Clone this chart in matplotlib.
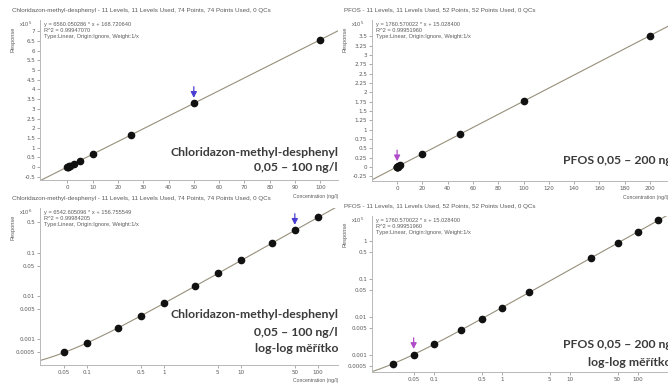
import numpy as np
import matplotlib.pyplot as plt
from matplotlib.ticker import FixedLocator, FixedFormatter, NullLocator

# Calibration data (concentration in ng/l, detector response in counts)
chl_conc = [0.05, 0.1, 0.25, 0.5, 1, 2.5, 5, 10, 25, 50, 100]
chl_resp = [500, 820, 1810, 3450, 6750, 16600, 33000, 65800, 164000, 328000, 656000]
chl_eq_lin = (6560.050286, 168.720640, 0.99947070)
chl_eq_log = (6542.605096, 156.755549, 0.99984205)

pfos_conc = [0.025, 0.05, 0.1, 0.25, 0.5, 1, 2.5, 20, 50, 100, 200]
pfos_resp = [59, 103, 191, 455, 895, 1776, 4420, 35230, 88040, 176070, 352130]
pfos_eq = (1760.570022, 15.028400, 0.99951960)

chl_title = "Chloridazon-methyl-desphenyl - 11 Levels, 11 Levels Used, 74 Points, 74 Points Used, 0 QCs"
pfos_title = "PFOS - 11 Levels, 11 Levels Used, 52 Points, 52 Points Used, 0 QCs"
fit_type = "Type:Linear, Origin:Ignore, Weight:1/x"

tl_yticks = [-0.5, 0, 0.5, 1, 1.5, 2, 2.5, 3, 3.5, 4, 4.5, 5, 5.5, 6, 6.5, 7]
tl_xticks = [0, 10, 20, 30, 40, 50, 60, 70, 80, 90, 100]
tr_yticks = [-0.25, 0, 0.25, 0.5, 0.75, 1, 1.25, 1.5, 1.75, 2, 2.25, 2.5, 2.75, 3, 3.25, 3.5]
tr_xticks = [0, 20, 40, 60, 80, 100, 120, 140, 160, 180, 200]
bl_yticks = [0.0005, 0.001, 0.005, 0.01, 0.05, 0.1, 0.5]
bl_xticks = [0.05, 0.1, 0.5, 1, 5, 10, 50, 100]
br_yticks = [0.0005, 0.001, 0.005, 0.01, 0.05, 0.1, 0.5, 1]
br_xticks = [0.05, 0.1, 0.5, 1, 5, 10, 50, 100]

chl_label = ["Chloridazon-methyl-desphenyl", "0,05 \u2013 100 ng/l"]
pfos_label = ["PFOS 0,05 \u2013 200 ng/l"]
log_note = "log-log m\u011b\u0159\u00edtko"

W, H = 668, 385
fig = plt.figure(figsize=(W / 100, H / 100), dpi=100)
fig.patch.set_facecolor("white")

SMALL = 4.1
GREY = "#5a5a5a"
LINE = "#968f7a"
BIG = dict(family="Lato", weight="bold", color="#3b3b3b", fontsize=8.8)


def box(l, t, r, b):
    return [l / W, 1 - b / H, (r - l) / W, (b - t) / H]


def fmt(v):
    s = ("%.4f" % v).rstrip("0").rstrip(".")
    return s


def style(ax, xticks, yticks):
    for s in ("top", "right"):
        ax.spines[s].set_visible(False)
    for s in ("left", "bottom"):
        ax.spines[s].set_color("#b8b8b8")
        ax.spines[s].set_linewidth(0.7)
    ax.xaxis.set_major_locator(FixedLocator(xticks))
    ax.xaxis.set_major_formatter(FixedFormatter([fmt(v) for v in xticks]))
    ax.yaxis.set_major_locator(FixedLocator(yticks))
    ax.yaxis.set_major_formatter(FixedFormatter([fmt(v) for v in yticks]))
    ax.xaxis.set_minor_locator(NullLocator())
    ax.yaxis.set_minor_locator(NullLocator())
    ax.tick_params(length=2, width=0.5, color="#888888", labelsize=SMALL,
                   labelcolor=GREY, pad=1.5)
    ax.set_facecolor("none")


def header(ax, title, eq, scale_exp):
    slope, icpt, r2 = eq
    ax.text(-0.095, 1.045, title, transform=ax.transAxes, fontsize=SMALL + 0.4,
            color=GREY, family="Liberation Sans", va="bottom", ha="left")
    ax.text(-0.027, 1.0, "x10$^{%d}$" % scale_exp, transform=ax.transAxes,
            fontsize=SMALL, color=GREY, family="Liberation Sans", va="top", ha="right")
    txt = "y = %.6f * x + %.6f\nR^2 = %.8f\n%s" % (slope, icpt, r2, fit_type)
    ax.text(0.012, 0.985, txt, transform=ax.transAxes, fontsize=SMALL,
            color=GREY, family="Liberation Sans", va="top", ha="left", linespacing=1.25)
    ax.text(-0.09, 0.88, "Response", transform=ax.transAxes, rotation=90,
            fontsize=SMALL, color=GREY, family="Liberation Sans", va="center", ha="center")
    ax.text(1.0, -0.085, "Concentration (ng/l)", transform=ax.transAxes,
            fontsize=SMALL - 0.4, color=GREY, family="Liberation Sans", va="top", ha="right",
            clip_on=False)


def arrow(ax, x, y, color, dy=12):
    ax.annotate("", xy=(x, y), xycoords="data", xytext=(0, dy), textcoords="offset points",
                arrowprops=dict(arrowstyle="-|>,head_width=0.18,head_length=0.35",
                                color=color, lw=0.9, shrinkA=0, shrinkB=4))


# ---- top left: Chloridazon, linear ----
ax1 = fig.add_axes(box(40, 20, 338, 180))
style(ax1, tl_xticks, tl_yticks)
ax1.set_xlim(-10.8, 107)
ax1.set_ylim(-0.67, 7.58)
xs = np.linspace(-10.8, 107, 50)
ax1.plot(xs, (chl_eq_lin[0] * xs + chl_eq_lin[1]) / 1e5, color=LINE, lw=0.8)
ax1.plot(chl_conc, np.array(chl_resp) / 1e5, "o", color="#111111", ms=4.5)
arrow(ax1, 50, chl_resp[9] / 1e5, "#4a3fd0")
header(ax1, chl_title, chl_eq_lin, 5)

# ---- top right: PFOS, linear ----
ax2 = fig.add_axes(box(372, 20, 668, 181))
style(ax2, tr_xticks, tr_yticks)
ax2.set_xlim(-19.8, 214.2)
ax2.set_ylim(-0.38, 3.94)
xs = np.linspace(-19.8, 214.2, 50)
ax2.plot(xs, (pfos_eq[0] * xs + pfos_eq[1]) / 1e5, color=LINE, lw=0.8)
ax2.plot(pfos_conc, np.array(pfos_resp) / 1e5, "o", color="#111111", ms=4.5)
arrow(ax2, pfos_conc[1], pfos_resp[1] / 1e5, "#b04cc8")
header(ax2, pfos_title, pfos_eq, 5)

# ---- bottom left: Chloridazon, log-log ----
ax3 = fig.add_axes(box(40, 208, 338, 365))
ax3.set_xscale("log")
ax3.set_yscale("log")
style(ax3, bl_xticks, bl_yticks)
ax3.set_xlim(0.0245, 182)
ax3.set_ylim(0.00025, 1.08)
xs = np.logspace(np.log10(0.0245), np.log10(182), 200)
ax3.plot(xs, (chl_eq_log[0] * xs + chl_eq_log[1]) / 1e6, color=LINE, lw=0.8)
ax3.plot(chl_conc, np.array(chl_resp) / 1e6, "o", color="#111111", ms=4.5)
arrow(ax3, 50, chl_resp[9] / 1e6, "#4a3fd0")
header(ax3, chl_title, chl_eq_log, 6)

# ---- bottom right: PFOS, log-log ----
ax4 = fig.add_axes(box(372, 216, 668, 372))
ax4.set_xscale("log")
ax4.set_yscale("log")
style(ax4, br_xticks, br_yticks)
ax4.set_xlim(0.0122, 276)
ax4.set_ylim(10 ** (np.log10(0.001) - 17 / 38), 10 ** (np.log10(0.001) + 139 / 38))
xs = np.logspace(np.log10(0.0122), np.log10(276), 200)
ax4.plot(xs, (pfos_eq[0] * xs + pfos_eq[1]) / 1e5, color=LINE, lw=0.8)
ax4.plot(pfos_conc, np.array(pfos_resp) / 1e5, "o", color="#111111", ms=4.5)
arrow(ax4, pfos_conc[1], pfos_resp[1] / 1e5, "#b04cc8")
header(ax4, pfos_title, pfos_eq, 5)

# ---- compound labels ----
fig.text(338 / W, 1 - 152 / H, chl_label[0], ha="right", va="center", **BIG)
fig.text(338 / W, 1 - 168 / H, chl_label[1], ha="right", va="center", **BIG)
fig.text(563 / W, 1 - 160 / H, pfos_label[0], ha="left", va="center", **BIG)

fig.text(338 / W, 1 - 315 / H, chl_label[0], ha="right", va="center", **BIG)
fig.text(338 / W, 1 - 332 / H, chl_label[1], ha="right", va="center", **BIG)
fig.text(338 / W, 1 - 348 / H, log_note, ha="right", va="center", **BIG)
fig.text(563 / W, 1 - 345 / H, pfos_label[0], ha="left", va="center", **BIG)
fig.text(672 / W, 1 - 362 / H, log_note, ha="right", va="center", **BIG)

fig.savefig("out.png", dpi=100, facecolor="white")
